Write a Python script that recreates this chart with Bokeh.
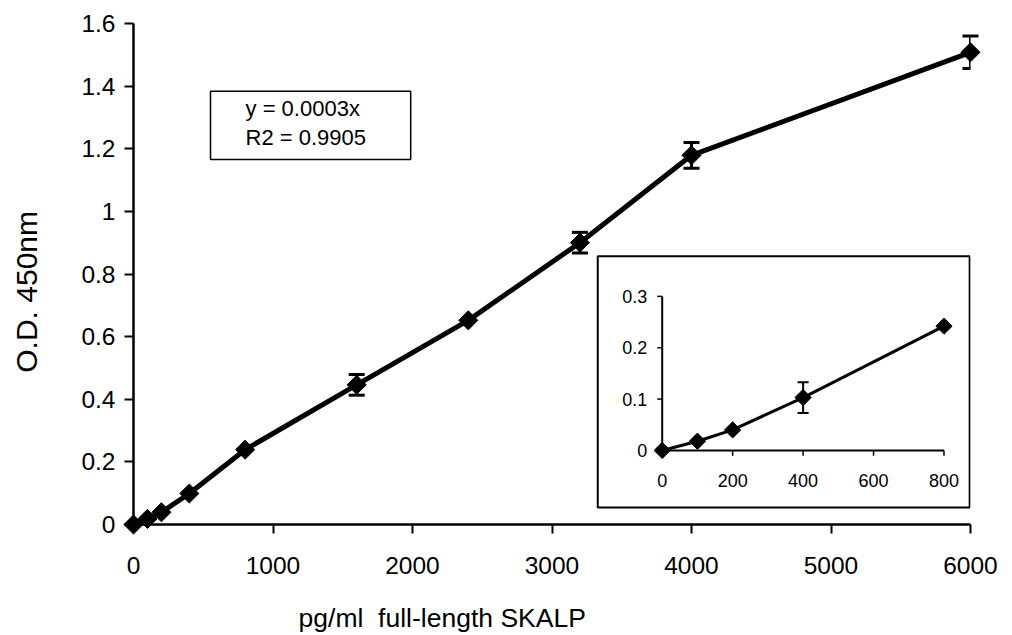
import math
from bokeh.plotting import figure
from bokeh.models import Range1d, FixedTicker, Label, ColumnDataSource
from bokeh.core.properties import value
from bokeh.embed import file_html
from bokeh.resources import INLINE

# ---------------- data ----------------
conc = [0, 100, 200, 400, 800, 1600, 2400, 3200, 4000, 6000]
od = [0.0, 0.018, 0.039, 0.099, 0.239, 0.446, 0.652, 0.900, 1.179, 1.508]
od_err = [0.0, 0.0, 0.0, 0.0, 0.0, 0.033, 0.0, 0.033, 0.041, 0.052]

inset_conc = [0, 100, 200, 400, 800]
inset_od = [0.0, 0.018, 0.040, 0.103, 0.242]
inset_err = [0.0, 0.0, 0.0, 0.030, 0.004]

x_ticks = [0, 1000, 2000, 3000, 4000, 5000, 6000]
x_tick_labels = ["0", "1000", "2000", "3000", "4000", "5000", "6000"]
y_ticks = [0, 0.2, 0.4, 0.6, 0.8, 1.0, 1.2, 1.4, 1.6]
y_tick_labels = ["0", "0.2", "0.4", "0.6", "0.8", "1", "1.2", "1.4", "1.6"]

inset_x_ticks = [0, 200, 400, 600, 800]
inset_x_tick_labels = ["0", "200", "400", "600", "800"]
inset_y_ticks = [0, 0.1, 0.2, 0.3]
inset_y_tick_labels = ["0", "0.1", "0.2", "0.3"]

x_title = "pg/ml\u00a0 full-length SKALP"
y_title = "O.D. 450nm"
fit_lines = ["y = 0.0003x", "R2 = 0.9905"]

FONT = "Liberation Sans"

# ---------------- figure ----------------
p = figure(width=1004, height=635, output_backend="svg", toolbar_location=None,
           x_range=Range1d(0, 6000), y_range=Range1d(0, 1.6),
           min_border_left=133, min_border_right=34, min_border_top=23, min_border_bottom=111)
p.outline_line_color = None
p.background_fill_color = "white"
p.border_fill_color = "white"
p.xgrid.visible = False
p.ygrid.visible = False

for ax, ticks, labels, standoff in ((p.xaxis[0], x_ticks, x_tick_labels, 23),
                                    (p.yaxis[0], y_ticks, y_tick_labels, 9)):
    ax.ticker = FixedTicker(ticks=ticks)
    ax.major_label_overrides = {t: l for t, l in zip(ticks, labels)}
    ax.minor_tick_line_color = None
    ax.major_tick_in = 0
    ax.major_tick_out = 9
    ax.major_tick_line_width = 2
    ax.major_tick_line_color = "black"
    ax.axis_line_width = 2.5
    ax.axis_line_color = "black"
    ax.major_label_text_font = FONT
    ax.major_label_text_font_size = "24.5px"
    ax.major_label_text_color = "black"
    ax.major_label_standoff = standoff

# axis titles (overlay level so they are drawn outside the frame)
p.text(x=[2213], y=[0], text=[x_title], y_offset=93, text_align="center",
       text_baseline="middle", text_font=value(FONT), text_font_size="26.5px",
       text_color="black", level="overlay")
p.text(x=[0], y=[0.743], text=[y_title], x_offset=-107, angle=math.pi / 2,
       text_align="center", text_baseline="middle", text_font=value(FONT),
       text_font_size="30px", text_color="black", level="overlay")

# fit box
p.quad(left=[552], right=[1987], bottom=[1.166], top=[1.3834], fill_color="white",
       line_color="black", line_width=1.5)
p.add_layout(Label(x=803, y=1.330, text=fit_lines[0], text_align="left", text_baseline="middle",
                   text_font=FONT, text_font_size="22px", text_color="black"))
p.add_layout(Label(x=803, y=1.2374, text=fit_lines[1], text_align="left", text_baseline="middle",
                   text_font=FONT, text_font_size="22px", text_color="black"))

# main series
src = ColumnDataSource(dict(x=conc, y=od))
ebar = ColumnDataSource(dict(x=[c for c, e in zip(conc, od_err) if e > 0],
                             lo=[v - e for v, e in zip(od, od_err) if e > 0],
                             hi=[v + e for v, e in zip(od, od_err) if e > 0]))
p.line("x", "y", source=src, line_color="black", line_width=5, level="overlay")
p.segment(x0="x", y0="lo", x1="x", y1="hi", source=ebar, line_color="black", line_width=3)
p.scatter("x", "lo", source=ebar, marker="dash", size=16, line_color="black", line_width=3)
p.scatter("x", "hi", source=ebar, marker="dash", size=16, line_color="black", line_width=3,
          level="overlay")
p.scatter("x", "y", source=src, marker="square", angle=math.pi / 4, size=13.5,
          fill_color="black", line_color="black", level="overlay")

# ---------------- inset ----------------
p.quad(left=[3328], right=[5994], bottom=[0.0543], top=[0.8564], fill_color="white",
       line_color="black", line_width=2)
sub = p.subplot(x_source=Range1d(0, 800), y_source=Range1d(0, 0.3),
                x_target=Range1d(3790, 5810), y_target=Range1d(0.2365, 0.7286))

TICK_DX = 14
TICK_DY = 0.0105
xmin, xmax = min(inset_x_ticks), max(inset_x_ticks)
ymin, ymax = min(inset_y_ticks), max(inset_y_ticks)
sub.segment(x0=[xmin], y0=[ymin], x1=[xmax], y1=[ymin], line_color="black", line_width=2)
sub.segment(x0=[xmin], y0=[ymin], x1=[xmin], y1=[ymax], line_color="black", line_width=2)
sub.segment(x0=inset_x_ticks, y0=[ymin] * len(inset_x_ticks), x1=inset_x_ticks,
            y1=[ymin - TICK_DY] * len(inset_x_ticks), line_color="black", line_width=1.5)
sub.segment(x0=[xmin] * len(inset_y_ticks), y0=inset_y_ticks, x1=[xmin - TICK_DX] * len(inset_y_ticks),
            y1=inset_y_ticks, line_color="black", line_width=1.5)
sub.text(x=inset_x_ticks, y=[ymin] * len(inset_x_ticks), text=inset_x_tick_labels, y_offset=30,
         text_align="center", text_baseline="middle", text_font=value(FONT),
         text_font_size="18px", text_color="black")
sub.text(x=[xmin] * len(inset_y_ticks), y=inset_y_ticks, text=inset_y_tick_labels, x_offset=-15,
         text_align="right", text_baseline="middle", text_font=value(FONT),
         text_font_size="18px", text_color="black")

isrc = ColumnDataSource(dict(x=inset_conc, y=inset_od))
iebar = ColumnDataSource(dict(x=[c for c, e in zip(inset_conc, inset_err) if e > 0],
                              lo=[v - e for v, e in zip(inset_od, inset_err) if e > 0],
                              hi=[v + e for v, e in zip(inset_od, inset_err) if e > 0]))
sub.line("x", "y", source=isrc, line_color="black", line_width=3)
sub.segment(x0="x", y0="lo", x1="x", y1="hi", source=iebar, line_color="black", line_width=2)
sub.scatter("x", "lo", source=iebar, marker="dash", size=11, line_color="black", line_width=2)
sub.scatter("x", "hi", source=iebar, marker="dash", size=11, line_color="black", line_width=2)
sub.scatter("x", "y", source=isrc, marker="square", angle=math.pi / 4, size=11.5,
            fill_color="black", line_color="black")

open("out.html", "w").write(file_html(p, INLINE))
